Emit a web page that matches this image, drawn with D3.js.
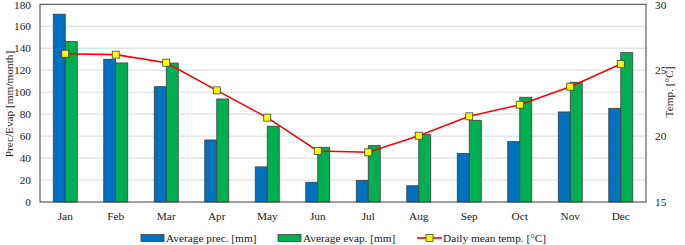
<!DOCTYPE html>
<html><head><meta charset="utf-8">
<script src="https://cdn.jsdelivr.net/npm/d3@7"></script>
<style>body{margin:0;background:#fff}svg{display:block}</style>
</head><body><svg id="c" width="685" height="245" font-family="'Liberation Serif', 'Times New Roman', serif"></svg>
<script>
const months = ["Jan","Feb","Mar","Apr","May","Jun","Jul","Aug","Sep","Oct","Nov","Dec"];
const prec = [171,130,105,56.5,32,18,19.7,14.8,44.3,55,82,85.3];
const evap = [146,126.6,126.5,93.8,69,49.8,51.3,61.3,74.4,95.4,109,136];
const temp = [26.25,26.18,25.57,23.47,21.4,18.87,18.77,20.03,21.5,22.38,23.75,25.47];
const leftTicks = [0,20,40,60,80,100,120,140,160,180];
const rightTicks = [15,20,25,30];
const seriesNames = ["Average prec. [mm]","Average evap. [mm]","Daily mean temp. [°C]"];

const svg = d3.select("#c");
const L=40,R=646,T=4.3,B=202;
const x = d3.scaleBand().domain(months).range([L,R]);
const yL = d3.scaleLinear().domain([0,180]).range([B,T]);
const yR = d3.scaleLinear().domain([15,30]).range([B,T]);
const bw = 12;
const txt = "#1a1a1a";

// grid
svg.append("g").selectAll("line").data(leftTicks.slice(1,-1)).join("line")
  .attr("x1",L).attr("x2",R).attr("y1",d=>yL(d)).attr("y2",d=>yL(d))
  .attr("stroke","#d9d9d9").attr("stroke-width",1);

// bars
const cx = d=>x(d)+x.bandwidth()/2;
svg.append("g").selectAll("rect").data(months).join("rect")
  .attr("x",d=>cx(d)-bw).attr("width",bw)
  .attr("y",(d,i)=>yL(prec[i])).attr("height",(d,i)=>B-yL(prec[i]))
  .attr("fill","#0070C0").attr("stroke","#404040").attr("stroke-width",0.8);
svg.append("g").selectAll("rect").data(months).join("rect")
  .attr("x",d=>cx(d)).attr("width",bw)
  .attr("y",(d,i)=>yL(evap[i])).attr("height",(d,i)=>B-yL(evap[i]))
  .attr("fill","#00B050").attr("stroke","#404040").attr("stroke-width",0.8);

// frame
svg.append("rect").attr("x",L).attr("y",T).attr("width",R-L).attr("height",B-T)
  .attr("fill","none").attr("stroke","#404040").attr("stroke-width",1);

// line
const line = d3.line().x((d,i)=>cx(months[i])).y(d=>yR(d));
svg.append("path").datum(temp).attr("d",line).attr("fill","none").attr("stroke","#FF0000").attr("stroke-width",1.6);
svg.append("g").selectAll("rect").data(temp).join("rect")
  .attr("x",(d,i)=>cx(months[i])-3.5).attr("y",d=>yR(d)-3.5).attr("width",7).attr("height",7)
  .attr("fill","#FFFF00").attr("stroke","#404040").attr("stroke-width",0.8);

// axes labels
const fs = 11.3;
svg.append("g").selectAll("text").data(leftTicks).join("text")
  .attr("x",31).attr("y",d=>Math.max(yL(d)+4,9)).attr("text-anchor","end").attr("font-size",fs).attr("fill",txt).text(d=>d);
svg.append("g").selectAll("text").data(rightTicks).join("text")
  .attr("x",655).attr("y",d=>Math.max(yR(d)+4,9)).attr("text-anchor","start").attr("font-size",fs).attr("fill",txt).text(d=>d);
svg.append("g").selectAll("text").data(months).join("text")
  .attr("x",d=>cx(d)).attr("y",220).attr("text-anchor","middle").attr("font-size",fs).attr("fill",txt).text(d=>d);
svg.append("text").attr("transform","translate(13,104) rotate(-90)").attr("text-anchor","middle").attr("font-size",fs).attr("fill",txt).text("Prec/Evap [mm/month]");
svg.append("text").attr("transform","translate(673,92) rotate(-90)").attr("text-anchor","middle").attr("font-size",fs).attr("fill",txt).text("Temp. [°C]");

// legend
const ly = 238;
svg.append("rect").attr("x",141).attr("y",ly-3.5).attr("width",23).attr("height",7).attr("fill","#0070C0").attr("stroke","#404040").attr("stroke-width",0.8);
svg.append("text").attr("x",166).attr("y",ly+4).attr("font-size",fs).attr("fill",txt).text(seriesNames[0]);
svg.append("rect").attr("x",278).attr("y",ly-3.5).attr("width",23).attr("height",7).attr("fill","#00B050").attr("stroke","#404040").attr("stroke-width",0.8);
svg.append("text").attr("x",303).attr("y",ly+4).attr("font-size",fs).attr("fill",txt).text(seriesNames[1]);
svg.append("line").attr("x1",417).attr("x2",442).attr("y1",ly).attr("y2",ly).attr("stroke","#FF0000").attr("stroke-width",1.6);
svg.append("rect").attr("x",426).attr("y",ly-3.5).attr("width",7).attr("height",7).attr("fill","#FFFF00").attr("stroke","#404040").attr("stroke-width",0.8);
svg.append("text").attr("x",443).attr("y",ly+4).attr("font-size",fs).attr("fill",txt).text(seriesNames[2]);
</script></body></html>
